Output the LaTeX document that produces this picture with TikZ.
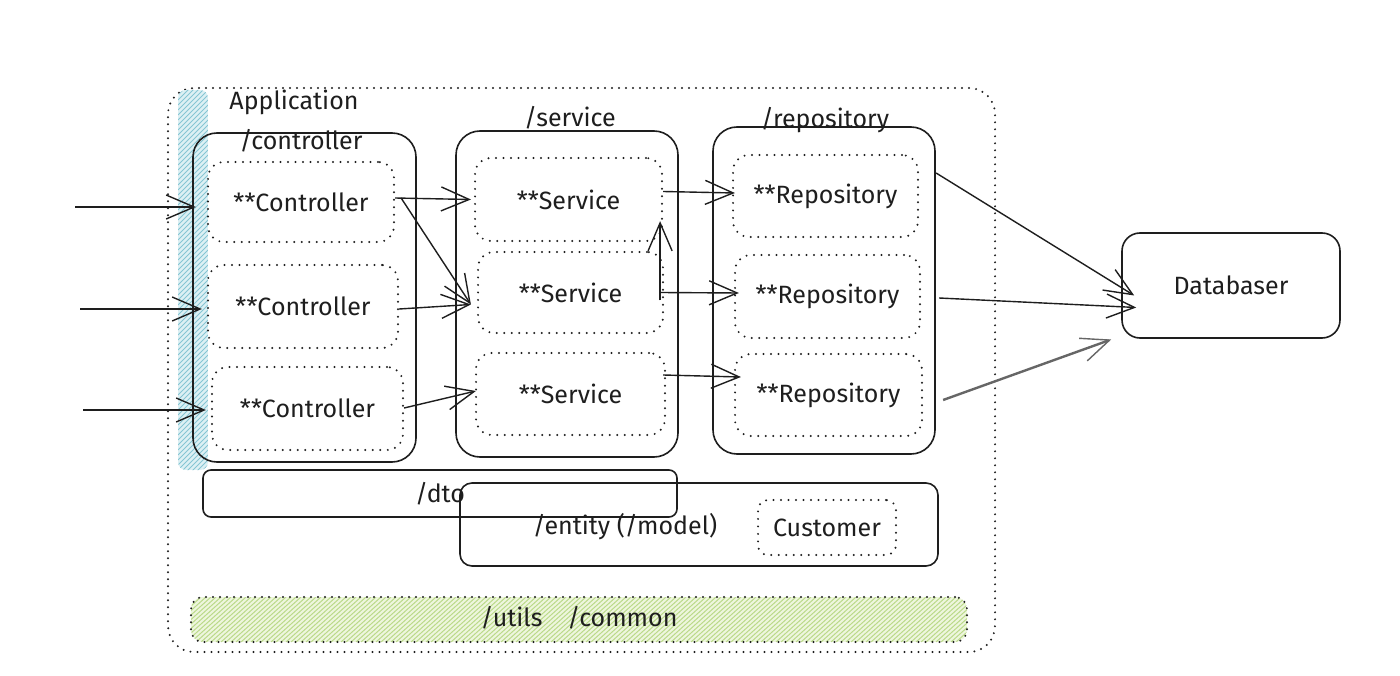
\documentclass[tikz,border=0pt]{standalone}
\usepackage{fontspec}
\setmainfont{Fira Sans}
\usetikzlibrary{arrows.meta}
\definecolor{stripfill}{HTML}{DDF0F4}
\definecolor{stripline}{HTML}{86C5D3}
\definecolor{greenfill}{HTML}{EEF6DE}
\definecolor{greenline}{HTML}{BBDA8A}
\definecolor{inkc}{HTML}{1E1E1E}
\tikzset{
  txt/.style={font=\fontsize{25}{29}\selectfont, text=inkc},
  groupbox/.style={draw=inkc, line width=1.6pt, rounded corners=24pt, inner sep=0pt},
  itembox/.style={draw=inkc, line width=2.2pt, line cap=round, dash pattern=on 0pt off 7.5pt, rounded corners=16pt, inner sep=0pt, txt},
  plainbox/.style={draw=inkc, line width=1.6pt, rounded corners=14pt, inner sep=0pt, txt},
  outerbox/.style={draw=inkc, line width=2.2pt, line cap=round, dash pattern=on 0pt off 7pt, rounded corners=26pt},
  conn/.style={draw=inkc, line width=1.4pt, -{Straight Barb[length=28pt,width=24pt,line width=1.4pt]}},
}
\begin{document}
\begin{tikzpicture}[x=1pt,y=-1pt]
\useasboundingbox (0,0) rectangle (1400,676);
\fill[white] (0,0) rectangle (1400,676);

% utils / common hatched background
\begin{scope}
\clip[rounded corners=12pt] (191,597) rectangle (967,642);
\fill[greenfill] (191,597) rectangle (967,642);
\foreach \i in {0,5,...,840} {\draw[greenline, line width=1pt] (191+\i-50,642) -- (191+\i,597);}
\end{scope}
\node[outerbox, rounded corners=12pt, minimum width=776pt, minimum height=45pt] (utilsbg) at (579,619.5) {};
\node[txt] (utils) at (579,618) {/utils\quad/common};

% outer application frame
\node[outerbox, minimum width=827pt, minimum height=564pt] (app) at (581.5,370) {};

% API strip
\begin{scope}
\clip[rounded corners=8pt] (178,90) rectangle (208,470);
\fill[stripfill] (178,90) rectangle (208,470);
\foreach \i in {0,5,...,420} {\draw[stripline, line width=1pt] (178,90+\i) -- (208,60+\i);}
\end{scope}
\node[draw=none, minimum width=30pt, minimum height=380pt, inner sep=0pt] (api) at (193,280) {};

% controller group
\node[groupbox, minimum width=223pt, minimum height=329pt] (cg) at (304.5,297.5) {};
\node[txt] (applbl) at (294,102) {Application};
\node[txt] (cglbl) at (301,141) {/controller};
\node[itembox, minimum width=186pt, minimum height=80pt] (c1) at (301,202) {**Controller};
\node[itembox, minimum width=190pt, minimum height=83pt] (c2) at (303,306.5) {**Controller};
\node[itembox, minimum width=191pt, minimum height=83pt] (c3) at (307.5,408.5) {**Controller};

% service group
\node[groupbox, minimum width=222pt, minimum height=326pt] (sg) at (567,294) {};
\node[txt] (sglbl) at (570,118) {/service};
\node[itembox, minimum width=187pt, minimum height=83pt] (s1) at (568.5,199.5) {**Service};
\node[itembox, minimum width=185pt, minimum height=81pt] (s2) at (570.5,292.5) {**Service};
\node[itembox, minimum width=189pt, minimum height=82pt] (s3) at (570.5,394) {**Service};

% repository group
\node[groupbox, minimum width=222pt, minimum height=327pt] (rg) at (824,290.5) {};
\node[txt] (rglbl) at (825,120) {/repository};
\node[itembox, minimum width=185pt, minimum height=82pt] (r1) at (825.5,196) {**Repository};
\node[itembox, minimum width=185pt, minimum height=83pt] (r2) at (827.5,296.5) {**Repository};
\node[itembox, minimum width=187pt, minimum height=82pt] (r3) at (828.5,395) {**Repository};

% database
\node[plainbox, rounded corners=18pt, minimum width=218pt, minimum height=105pt] (db) at (1231,285.5) {Databaser};

% dto and entity
\node[plainbox, rounded corners=8pt, minimum width=474pt, minimum height=47pt] (dto) at (440,493.5) {/dto};
\node[plainbox, rounded corners=12pt, minimum width=478pt, minimum height=83pt] (entity) at (699,524.5) {};
\node[txt] (entlbl) at (625,527) {/entity (/model)};
\node[itembox, rounded corners=10pt, minimum width=138pt, minimum height=55pt] (cust) at (827,527.5) {Customer};

% incoming requests
\coordinate (in1) at (75,207);
\coordinate (in2) at (80,309);
\coordinate (in3) at (83,410);
\draw[conn] (in1) -- ([xshift=-11pt,yshift=-5pt]c1.west);
\draw[conn] (in2) -- ([xshift=-5pt,yshift=-2.5pt]c2.west);
\draw[conn] (in3) -- ([xshift=-5pt,yshift=-1.5pt]c3.west);

% controller -> service
\draw[conn] ([yshift=4pt]c1.east) -- ([xshift=-3pt]s1.west);
\draw[conn] ([xshift=6pt,yshift=4pt]c1.east) -- ([xshift=-6pt,yshift=-12pt]s2.west);
\draw[conn] ([yshift=-2.5pt]c2.east) -- ([xshift=-6pt,yshift=-12pt]s2.west);
\draw[conn] ([yshift=0.5pt]c3.east) -- ([xshift=1pt,yshift=3pt]s3.west);

% service -> service (upwards)
\draw[conn] ([xshift=-4pt,yshift=-8pt]s2.east) -- ([xshift=-3pt,yshift=21pt]s1.south east);

% service -> repository
\draw[conn] ([yshift=8pt]s1.east) -- ([xshift=3pt,yshift=3pt]r1.west);
\draw[conn] ([xshift=-4pt]s2.east) -- ([xshift=5pt,yshift=3.5pt]r2.west);
\draw[conn] ([xshift=-3pt,yshift=19pt]s3.east) -- ([xshift=7pt,yshift=18pt]r3.west);

% repository -> database
\draw[conn] ([xshift=17pt,yshift=23pt]r1.east) -- ([xshift=13pt,yshift=-10pt]db.west);
\draw[conn] ([xshift=18pt,yshift=-1.5pt]r2.east) -- ([xshift=15pt,yshift=-22pt]db.west);
\draw[conn, draw=black!60, line width=2.4pt] ([xshift=20pt,yshift=-5pt]r3.east) -- ([xshift=-10pt,yshift=-54pt]db.west);
\end{tikzpicture}
\end{document}
